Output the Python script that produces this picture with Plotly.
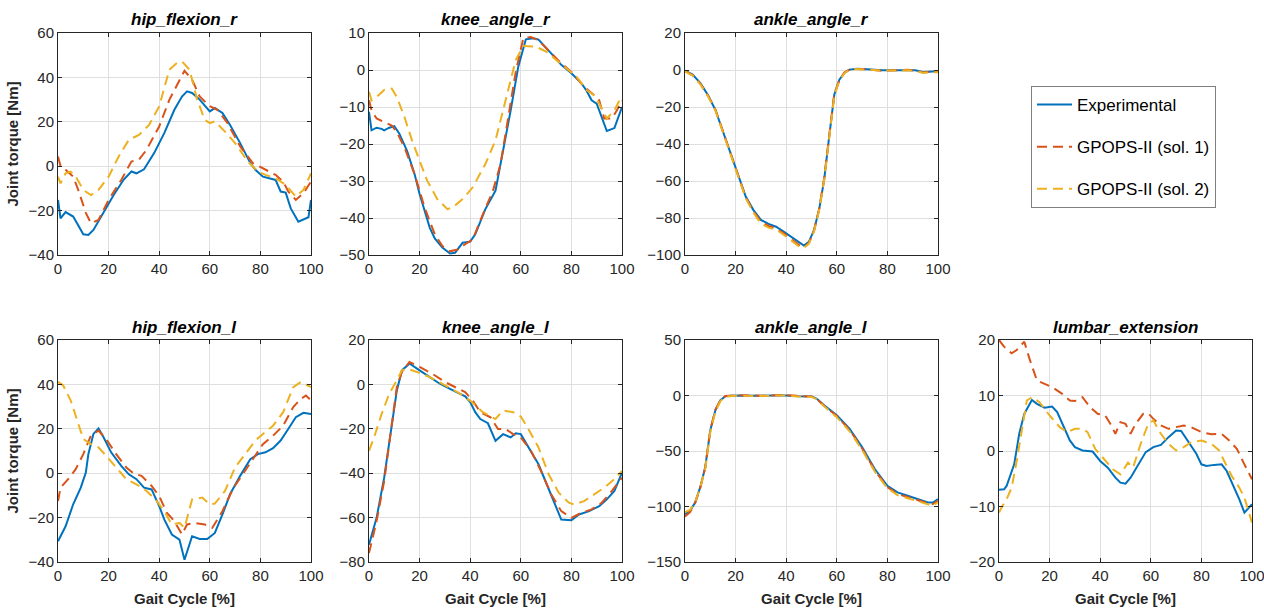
import plotly.graph_objects as go

# ---------------------------------------------------------------------------
# Joint torques over the gait cycle: experimental vs. two GPOPS-II solutions
# ---------------------------------------------------------------------------

# hip_flexion_r
hip_r_exp_x = [0, 1, 3, 6, 10, 12, 14, 18, 22, 26, 29, 31, 34, 38, 42, 46, 49, 51, 53, 56, 60, 62, 65, 68, 72, 76, 78, 81, 86, 88, 90, 92, 95, 99, 100]
hip_r_exp_y = [-15.2, -23.5, -20.7, -22.7, -30.7, -31, -28.7, -21, -13, -6, -2.4, -3.2, -1.4, 5.9, 14.9, 25.4, 31.4, 33.7, 33, 30, 24.7, 26.2, 24, 18.6, 10.4, 1.4, -1.6, -4.7, -6.2, -11.4, -11.9, -19, -25, -23, -15.2]
hip_r_s1_x = [0, 1, 3, 6, 8, 11, 13, 16, 20, 25, 29, 32, 35, 40, 44, 48, 50, 53, 56, 60, 63, 67, 72, 77, 82, 86, 89, 91, 94, 97, 100]
hip_r_s1_y = [4.4, 0, -1.6, -4.7, -10.7, -21, -25.7, -24.2, -15.2, -6.2, 2.1, 2.9, 7.4, 17.9, 29.9, 38.9, 43, 39, 31.4, 27, 25.4, 19.4, 8.9, 1.4, -1.6, -3.9, -6.9, -11.4, -15.2, -12.2, -6.9]
hip_r_s2_x = [0, 1, 3, 5, 7, 10, 13, 16, 20, 24, 28, 32, 36, 40, 44, 47, 49, 52, 55, 58, 60, 62, 66, 70, 75, 79, 82, 86, 90, 94, 97, 100]
hip_r_s2_y = [-4.7, -7.7, -3.2, -2.4, -4.7, -10.7, -13, -10.7, -4.7, 4.4, 11.9, 14.1, 18.6, 26.9, 43.5, 46.5, 47.2, 43.5, 30, 20.9, 19.4, 20.2, 15.6, 10.4, 2.1, -2.4, -3.9, -5.4, -8.4, -13.7, -10.7, -3.2]

# knee_angle_r
knee_r_exp_x = [0, 1, 3, 5, 6, 8, 10, 12, 15, 18, 20, 24, 26, 29, 32, 34, 37, 40, 42, 46, 50, 53, 56, 59, 62, 65, 67, 72, 76, 80, 84, 86, 88, 90, 92, 94, 97, 100]
knee_r_exp_y = [-11.3, -16.3, -15.6, -15.9, -16.3, -15.6, -15.2, -17.2, -21.8, -28.1, -33.5, -42.6, -45.5, -48, -49.6, -49.4, -46.7, -46.4, -44.4, -37.6, -32.6, -21.8, -10.9, 0.9, 8.3, 8.6, 8.2, 4.5, 1.4, -0.9, -3.6, -5.6, -8.2, -9.1, -12.7, -16.5, -15.7, -10]
knee_r_s1_x = [0, 1, 3, 6, 9, 11, 14, 18, 22, 26, 29, 32, 35, 38, 41, 45, 49, 52, 55, 58, 61, 64, 67, 72, 76, 80, 85, 89, 91, 93, 96, 98, 100]
knee_r_s1_y = [-8.2, -10.9, -13.1, -14, -15, -16.8, -20.9, -28.1, -37.2, -44.4, -47.6, -49, -48.5, -47.1, -45.8, -39, -32.6, -25.4, -12.7, -0.5, 8.6, 8.9, 8, 4.5, 1.8, -0.5, -4.5, -6.8, -8.2, -13.1, -13.1, -10.9, -8.2]
knee_r_s2_x = [0, 1, 3, 6, 9, 11, 14, 17, 20, 23, 27, 31, 33, 37, 41, 46, 50, 54, 58, 61, 66, 70, 74, 78, 82, 86, 89, 91, 94, 97, 100]
knee_r_s2_y = [-5.9, -8.2, -7.3, -5.4, -5, -7.3, -12.7, -19, -24.5, -29.9, -34.9, -37.6, -37.2, -34.9, -31.7, -25.4, -19, -8.2, 2.7, 6.5, 6.3, 5, 2.7, 0.5, -1.8, -5.4, -6.8, -9.1, -13.1, -10.9, -6.8]

# ankle_angle_r
ankle_r_x = [0, 3, 6, 9, 12, 15, 18, 21, 24, 27, 30, 33, 36, 39, 42, 45, 47, 49, 51, 53, 55, 57, 59, 61, 63, 65, 68, 72, 78, 84, 88, 91, 94, 100]
ankle_r_exp_y = [-0.4, -2.5, -7, -13.4, -21.5, -33.2, -45, -57.6, -68.4, -75.6, -81, -83.2, -84.7, -87.4, -90.4, -93.3, -94.9, -92.8, -86.5, -75.6, -59.4, -35.9, -13.4, -5.2, -1.6, 0.2, 0.7, 0.4, -0.2, -0.2, 0, -0.2, -1.1, -0.7]
ankle_r_s1_y = [-0.6, -2.7, -7.3, -13.6, -21.3, -33, -45.2, -57.4, -68.8, -76.3, -82, -84.3, -85.5, -88.3, -91.5, -94.5, -95.8, -93.5, -86.8, -75.2, -58.5, -35, -13, -5.5, -1.4, 0.3, 0.6, 0.3, -0.4, -0.1, 0.1, -0.4, -1.3, -0.9]
ankle_r_s2_y = [-0.8, -3, -7.6, -14, -21.8, -33.6, -45.8, -58, -69.3, -77, -83, -85.2, -86.2, -89, -92.2, -95.3, -96.2, -93.8, -87.2, -76, -59.5, -36, -14, -5.8, -1.7, 0.1, 0.5, 0.2, -0.3, -0.3, -0.1, -0.5, -1.5, -1.2]

# hip_flexion_l
hip_l_exp_x = [0, 3, 6, 9, 11, 12, 14, 16, 18, 21, 25, 28, 31, 34, 37, 40, 42, 45, 48, 50, 53, 56, 59, 62, 65, 68, 72, 76, 79, 82, 85, 88, 91, 94, 97, 100]
hip_l_exp_y = [-30.7, -23.9, -14, -6.5, 0.3, 8.6, 17.7, 20.2, 16.2, 9.4, 3.3, -0.5, -2.7, -6.5, -7.3, -14.8, -20.8, -27.6, -29.9, -39, -28.4, -29.6, -29.6, -26.9, -18.6, -9.5, -1.2, 6.3, 8.6, 9.4, 11.3, 14.7, 19.9, 25.2, 27.2, 26.7]
hip_l_s1_x = [0, 1, 4, 7, 10, 13, 16, 19, 23, 27, 30, 33, 37, 40, 43, 46, 49, 51, 54, 58, 61, 65, 69, 73, 77, 81, 85, 89, 93, 96, 98, 100]
hip_l_s1_y = [-12.5, -6.5, -2.7, 1.8, 8.6, 16.9, 19.2, 15.4, 8.6, 2.6, -0.2, -1.2, -5.7, -10.3, -17.8, -21.6, -27.6, -23.1, -22.4, -23.1, -24.6, -17.1, -7.3, -0.5, 6.3, 13.1, 16.9, 21.4, 29.8, 33.5, 35, 32.8]
hip_l_s2_x = [0, 2, 5, 8, 10, 13, 16, 19, 23, 27, 31, 35, 39, 42, 45, 48, 50, 53, 57, 60, 62, 66, 70, 74, 78, 81, 85, 89, 93, 96, 100]
hip_l_s2_y = [41.1, 39.6, 32.8, 22.2, 15.4, 13.1, 11.6, 7.9, 2.6, -2.7, -5, -8, -12.5, -17.1, -23.1, -22.4, -24.6, -11.8, -11, -14, -13.7, -8, 2.6, 8.6, 14.7, 17.7, 21.4, 27.5, 38.8, 41.1, 38.8]

# knee_angle_l
knee_l_exp_x = [0, 3, 6, 9, 11, 13, 16, 20, 24, 28, 32, 36, 38, 40, 42, 44, 47, 50, 53, 56, 58, 60, 63, 67, 70, 73, 76, 80, 83, 87, 91, 94, 97, 100]
knee_l_exp_y = [-72.2, -60.1, -42, -17.8, -2.7, 6.3, 9.4, 6.3, 3.3, 0.3, -2, -4.2, -5.4, -8, -12.5, -15.6, -17.5, -25.4, -22.4, -23.9, -22, -22.4, -28.4, -36, -44.3, -52.6, -60.9, -61.2, -58.6, -57.1, -54.8, -51.8, -48, -39.7]
knee_l_s1_x = [0, 3, 6, 9, 11, 13, 16, 20, 25, 30, 35, 38, 41, 44, 48, 51, 54, 57, 60, 64, 68, 72, 76, 80, 84, 88, 92, 96, 100]
knee_l_s1_y = [-76, -61.6, -43.5, -17.8, -1.2, 5.6, 10.1, 7.9, 4.8, 1.1, -2, -3.5, -7.3, -12.5, -14.8, -20.1, -20.1, -22.4, -23.9, -29.9, -39, -49.5, -57.1, -60.1, -57.8, -56.3, -53.3, -48, -42]
knee_l_s2_x = [0, 2, 5, 8, 11, 13, 15, 19, 24, 30, 35, 40, 45, 50, 53, 57, 60, 63, 67, 71, 75, 79, 81, 85, 89, 93, 97, 100]
knee_l_s2_y = [-29.9, -23.9, -13.3, -4.2, 1.8, 6.3, 7.1, 5.6, 3.3, -0.5, -3.5, -7.3, -12.5, -15.6, -11.8, -12.5, -14.5, -20.1, -28.4, -40.5, -48.8, -53.3, -54.1, -52.6, -49.5, -46.5, -42.7, -39]

# ankle_angle_l
ankle_l_x = [0, 2, 4, 6, 8, 10, 12, 14, 16, 20, 30, 38, 45, 50, 52, 55, 60, 65, 70, 75, 80, 84, 88, 92, 96, 98, 100]
ankle_l_exp_y = [-107, -104, -96.4, -82.8, -64.7, -31.4, -13.3, -4.2, -0.6, 0, -0.3, 0.3, -0.6, -0.9, -2.7, -8.8, -17.8, -29.9, -46.5, -66.2, -81.3, -87.3, -90.3, -93.4, -96.4, -96.4, -93.4]
ankle_l_s1_y = [-109, -105, -97, -83.5, -65, -31, -13, -4, -0.5, 0.2, -0.2, 0.4, -0.4, -1, -2.9, -9.2, -18.5, -30.8, -47.5, -67.5, -82.5, -88.8, -91.5, -94.5, -97.2, -97.8, -95]
ankle_l_s2_y = [-105, -103, -96, -83, -66, -33, -14.5, -5, -1, -0.2, -0.5, 0.1, -0.8, -1.3, -3.3, -9.8, -19.5, -32, -49, -68.5, -83.5, -89.8, -92.5, -95.5, -98.5, -99.4, -96]

# lumbar_extension
lumbar_exp_x = [0, 2, 3, 6, 8, 10, 13, 15, 18, 21, 23, 25, 28, 30, 33, 37, 40, 43, 46, 48, 50, 52, 55, 58, 61, 64, 67, 70, 72, 75, 78, 80, 82, 85, 88, 90, 93, 95, 97, 100]
lumbar_exp_y = [-7, -6.9, -6.3, -2.4, 3.1, 6.7, 9.2, 8.5, 7.8, 8, 7, 4.9, 1.9, 0.7, 0.1, -0.1, -1.8, -3, -4.8, -5.7, -5.9, -4.8, -2.4, -0.2, 0.7, 1.1, 2.5, 3.7, 3.6, 1.6, -0.5, -2.4, -2.7, -2.5, -2.4, -3.6, -6.6, -8.7, -11.1, -9.6]
lumbar_s1_x = [0, 2, 5, 7, 10, 12, 15, 18, 21, 25, 28, 30, 33, 36, 39, 42, 44, 46, 48, 50, 52, 54, 57, 59, 61, 64, 67, 70, 73, 76, 80, 84, 88, 91, 94, 97, 100]
lumbar_s1_y = [20, 18.8, 17.6, 18.2, 19.7, 16.7, 12.7, 12.1, 11.5, 10.3, 9.1, 9, 9.7, 7.9, 6.7, 6.4, 4.9, 3.1, 5.2, 4.9, 3.1, 4.9, 6.7, 6.8, 5.8, 4.6, 4, 4.3, 4.6, 4.3, 3.4, 3, 3.1, 1.9, 0.4, -2.4, -5.1]
lumbar_s2_x = [0, 1, 3, 5, 7, 9, 11, 13, 16, 20, 24, 27, 30, 33, 35, 38, 42, 45, 48, 51, 53, 56, 59, 61, 64, 67, 70, 73, 76, 80, 84, 87, 89, 92, 95, 97, 100]
lumbar_s2_y = [-11.1, -10.2, -8.7, -6.6, -1.8, 3.7, 9.1, 9.7, 8.8, 6.4, 4.3, 3.4, 4, 4, 3.4, 0.4, -1.8, -3.3, -4.2, -2.1, -3, 1.3, 4.9, 5.5, 3.1, 1.3, 0.1, 0.7, 1.6, 1.9, 1.3, 0.1, -1.8, -4.5, -6.6, -8.4, -12.9]

SERIES_NAMES = ["Experimental", "GPOPS-II (sol. 1)", "GPOPS-II (sol. 2)"]

# ---------------------------------------------------------------------------
# Layout (pixel positions of the axes boxes, converted to paper fractions)
# ---------------------------------------------------------------------------
W, H = 1264, 609

BLUE, RED, YELLOW = "#0072BD", "#D95319", "#EDB120"
AXIS_COLOR = "#262626"
GRID_COLOR = "#dfdfdf"
FONT = "Liberation Sans, Arial, sans-serif"

COL_LEFT = [58, 369, 685, 999]
PLOT_W = 253
ROW_TOP = [33, 340]
PLOT_H = 222


def px_x(p):
    return p / W


def px_y(p):
    return 1 - p / H


# (title, row, col, y-range, y-dtick, series)
panels = [
    ("hip_flexion_r", 0, 0, (-40, 60), 20,
     [(hip_r_exp_x, hip_r_exp_y), (hip_r_s1_x, hip_r_s1_y), (hip_r_s2_x, hip_r_s2_y)]),
    ("knee_angle_r", 0, 1, (-50, 10), 10,
     [(knee_r_exp_x, knee_r_exp_y), (knee_r_s1_x, knee_r_s1_y), (knee_r_s2_x, knee_r_s2_y)]),
    ("ankle_angle_r", 0, 2, (-100, 20), 20,
     [(ankle_r_x, ankle_r_exp_y), (ankle_r_x, ankle_r_s1_y), (ankle_r_x, ankle_r_s2_y)]),
    ("hip_flexion_l", 1, 0, (-40, 60), 20,
     [(hip_l_exp_x, hip_l_exp_y), (hip_l_s1_x, hip_l_s1_y), (hip_l_s2_x, hip_l_s2_y)]),
    ("knee_angle_l", 1, 1, (-80, 20), 20,
     [(knee_l_exp_x, knee_l_exp_y), (knee_l_s1_x, knee_l_s1_y), (knee_l_s2_x, knee_l_s2_y)]),
    ("ankle_angle_l", 1, 2, (-150, 50), 50,
     [(ankle_l_x, ankle_l_exp_y), (ankle_l_x, ankle_l_s1_y), (ankle_l_x, ankle_l_s2_y)]),
    ("lumbar_extension", 1, 3, (-20, 20), 10,
     [(lumbar_exp_x, lumbar_exp_y), (lumbar_s1_x, lumbar_s1_y), (lumbar_s2_x, lumbar_s2_y)]),
]

line_styles = [
    dict(color=BLUE, width=2, dash="solid"),
    dict(color=RED, width=2, dash="10px,6px"),
    dict(color=YELLOW, width=2, dash="10px,6px"),
]

fig = go.Figure()
annotations = []
layout_axes = {}

for i, (title, row, col, yrange, ydtick, series) in enumerate(panels):
    n = "" if i == 0 else str(i + 1)
    x0 = px_x(COL_LEFT[col])
    x1 = px_x(COL_LEFT[col] + PLOT_W)
    y1 = px_y(ROW_TOP[row])
    y0 = px_y(ROW_TOP[row] + PLOT_H)

    for k, (xs, ys) in enumerate(series):
        fig.add_trace(go.Scatter(
            x=xs, y=ys, mode="lines", name=SERIES_NAMES[k],
            line=line_styles[k], legendgroup=SERIES_NAMES[k],
            showlegend=(i == 0), xaxis="x" + n, yaxis="y" + n,
            hoverinfo="skip",
        ))

    common = dict(
        showline=True, linecolor=AXIS_COLOR, linewidth=1, mirror="ticks",
        ticks="inside", ticklen=4, tickcolor=AXIS_COLOR, tickwidth=1,
        showgrid=True, gridcolor=GRID_COLOR, gridwidth=1, zeroline=False,
        tickfont=dict(family=FONT, size=15, color=AXIS_COLOR),
        fixedrange=True, automargin=False, ticklabeloverflow="allow",
    )
    xa = dict(common, domain=[x0, x1], range=[0, 100], tick0=0, dtick=20,
              anchor="y" + n)
    ya = dict(common, domain=[y0, y1], range=list(yrange), tick0=yrange[0],
              dtick=ydtick, anchor="x" + n)
    if row == 1:
        xa["title"] = dict(text="<b>Gait Cycle [%]</b>", standoff=10,
                           font=dict(family=FONT, size=15, color=AXIS_COLOR))
    if col == 0:
        ya["title"] = dict(text="<b>Joint torque [Nm]</b>", standoff=6,
                           font=dict(family=FONT, size=15, color=AXIS_COLOR))
    layout_axes["xaxis" + n] = xa
    layout_axes["yaxis" + n] = ya

    annotations.append(dict(
        text="<b><i>" + title + "</i></b>", xref="paper", yref="paper",
        x=(x0 + x1) / 2, y=px_y(ROW_TOP[row] - 13),
        xanchor="center", yanchor="middle", showarrow=False,
        font=dict(family=FONT, size=17, color="#000000"),
    ))

fig.update_layout(
    width=W, height=H, autosize=False,
    margin=dict(l=0, r=0, t=0, b=0, autoexpand=False),
    paper_bgcolor="white", plot_bgcolor="white",
    annotations=annotations,
    showlegend=True,
    legend=dict(
        x=px_x(1031), y=px_y(86), xanchor="left", yanchor="top",
        bgcolor="white", bordercolor="#7f7f7f", borderwidth=1,
        font=dict(family=FONT, size=17, color="#000000"),
        traceorder="grouped", tracegroupgap=17, itemwidth=35,
    ),
    **layout_axes,
)

fig.write_html("out.html")
